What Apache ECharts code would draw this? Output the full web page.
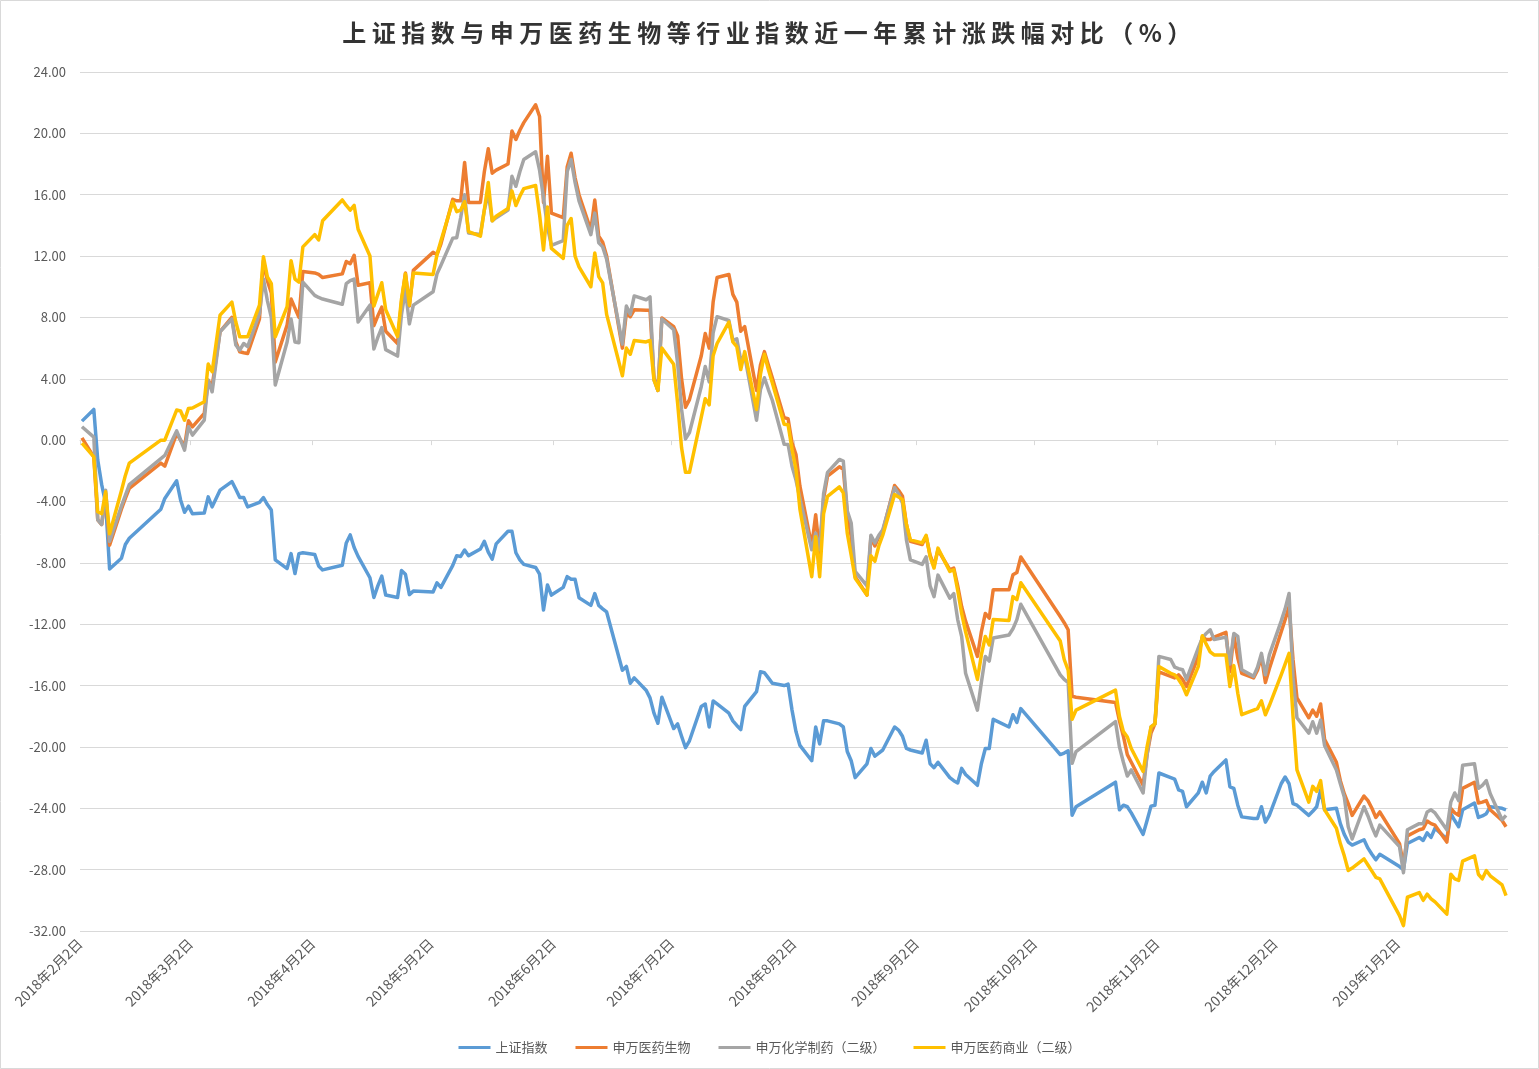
<!DOCTYPE html>
<html><head><meta charset="utf-8">
<script src="https://cdn.jsdelivr.net/npm/echarts@6/dist/echarts.min.js"></script>
<style>
html,body{margin:0;padding:0;background:#fff;}
#wrap{position:relative;width:1539px;height:1069px;}
#chart{position:absolute;left:0;top:0;width:1539px;height:1069px;}
#title{position:absolute;left:0;top:16px;width:1539px;text-align:center;font-family:'Noto Sans CJK SC';font-weight:bold;font-size:24px;line-height:32px;letter-spacing:5.5px;color:#333;z-index:2;}
</style></head>
<body><div id="wrap"><div id="chart"></div><div id="title">上证指数与申万医药生物等行业指数近一年累计涨跌幅对比（%）</div></div>
<script>
const seriesNames = ['上证指数','申万医药生物','申万化学制药（二级）','申万医药商业（二级）'];
const seriesColors = ['#5B9BD5','#ED7D31','#A5A5A5','#FFC000'];
const xTickDates = ['2018-02-02','2018-03-02','2018-04-02','2018-05-02','2018-06-02','2018-07-02','2018-08-02','2018-09-02','2018-10-02','2018-11-02','2018-12-02','2019-01-02'];
const yMin = -32, yMax = 24, yStep = 4;

const dates = [
'2018-02-02','2018-02-05','2018-02-06','2018-02-07','2018-02-08','2018-02-09','2018-02-12','2018-02-13','2018-02-14','2018-02-22','2018-02-23','2018-02-26','2018-02-27','2018-02-28',
'2018-03-01','2018-03-02','2018-03-05','2018-03-06','2018-03-07','2018-03-08','2018-03-09','2018-03-12','2018-03-13','2018-03-14','2018-03-15','2018-03-16','2018-03-19','2018-03-20','2018-03-21','2018-03-22','2018-03-23','2018-03-26','2018-03-27','2018-03-28','2018-03-29','2018-03-30',
'2018-04-02','2018-04-03','2018-04-04','2018-04-09','2018-04-10','2018-04-11','2018-04-12','2018-04-13','2018-04-16','2018-04-17','2018-04-18','2018-04-19','2018-04-20','2018-04-23','2018-04-24','2018-04-25','2018-04-26','2018-04-27',
'2018-05-02','2018-05-03','2018-05-04','2018-05-07','2018-05-08','2018-05-09','2018-05-10','2018-05-11','2018-05-14','2018-05-15','2018-05-16','2018-05-17','2018-05-18','2018-05-21','2018-05-22','2018-05-23','2018-05-24','2018-05-25','2018-05-28','2018-05-29','2018-05-30','2018-05-31',
'2018-06-01','2018-06-04','2018-06-05','2018-06-06','2018-06-07','2018-06-08','2018-06-11','2018-06-12','2018-06-13','2018-06-14','2018-06-15','2018-06-19','2018-06-20','2018-06-21','2018-06-22','2018-06-25','2018-06-26','2018-06-27','2018-06-28','2018-06-29',
'2018-07-02','2018-07-03','2018-07-04','2018-07-05','2018-07-06','2018-07-09','2018-07-10','2018-07-11','2018-07-12','2018-07-13','2018-07-16','2018-07-17','2018-07-18','2018-07-19','2018-07-20','2018-07-23','2018-07-24','2018-07-25','2018-07-26','2018-07-27','2018-07-30','2018-07-31',
'2018-08-01','2018-08-02','2018-08-03','2018-08-06','2018-08-07','2018-08-08','2018-08-09','2018-08-10','2018-08-13','2018-08-14','2018-08-15','2018-08-16','2018-08-17','2018-08-20','2018-08-21','2018-08-22','2018-08-23','2018-08-24','2018-08-27','2018-08-28','2018-08-29','2018-08-30','2018-08-31',
'2018-09-03','2018-09-04','2018-09-05','2018-09-06','2018-09-07','2018-09-10','2018-09-11','2018-09-12','2018-09-13','2018-09-14','2018-09-17','2018-09-18','2018-09-19','2018-09-20','2018-09-21','2018-09-25','2018-09-26','2018-09-27','2018-09-28',
'2018-10-08','2018-10-09','2018-10-10','2018-10-11','2018-10-12','2018-10-22','2018-10-23','2018-10-24','2018-10-25','2018-10-26','2018-10-29','2018-10-30','2018-10-31',
'2018-11-01','2018-11-02','2018-11-05','2018-11-06','2018-11-07','2018-11-08','2018-11-09','2018-11-12','2018-11-13','2018-11-14','2018-11-15','2018-11-16','2018-11-19','2018-11-20','2018-11-21','2018-11-22','2018-11-23','2018-11-26','2018-11-27','2018-11-28','2018-11-29','2018-11-30',
'2018-12-03','2018-12-04','2018-12-05','2018-12-06','2018-12-07','2018-12-10','2018-12-11','2018-12-12','2018-12-13','2018-12-14','2018-12-17','2018-12-18','2018-12-19','2018-12-20','2018-12-21','2018-12-24','2018-12-25','2018-12-26','2018-12-27','2018-12-28',
'2019-01-02','2019-01-03','2019-01-04','2019-01-07','2019-01-08','2019-01-09','2019-01-10','2019-01-11','2019-01-14','2019-01-15','2019-01-16','2019-01-17','2019-01-18','2019-01-21','2019-01-22','2019-01-23','2019-01-24','2019-01-25','2019-01-28','2019-01-29'
];

// 上证指数
const shIndex = [
1.24,2.0,-1.3,-2.9,-4.1,-8.4,-7.7,-6.8,-6.4,-4.5,-3.8,-2.65,-3.9,-4.7,
-4.3,-4.8,-4.75,-3.7,-4.35,-3.8,-3.26,-2.7,-3.2,-3.74,-3.74,-4.35,-4.06,-3.74,-4.2,-4.56,-7.8,-8.37,-7.4,-8.7,-7.4,-7.34,
-7.45,-8.2,-8.46,-8.16,-6.7,-6.18,-7.0,-7.58,-8.97,-10.26,-9.5,-8.86,-10.1,-10.26,-8.5,-8.74,-10.07,-9.84,
-9.9,-9.3,-9.6,-8.16,-7.53,-7.58,-7.16,-7.53,-7.1,-6.6,-7.3,-7.76,-6.76,-5.94,-5.94,-7.34,-7.8,-8.1,-8.3,-8.74,-11.07,-9.44,
-10.1,-9.6,-8.9,-9.07,-9.07,-10.27,-10.77,-10.0,-10.77,-11.0,-11.2,-15.0,-14.75,-15.85,-15.5,-16.3,-16.8,-17.8,-18.46,-16.76,
-18.8,-18.5,-19.3,-20.05,-19.6,-17.36,-17.2,-18.7,-17.0,-17.2,-17.8,-18.3,-18.6,-18.87,-17.36,-16.4,-15.1,-15.16,-15.5,-15.85,-16.0,-15.9,
-17.6,-19.0,-19.9,-20.9,-18.7,-19.8,-18.3,-18.3,-18.5,-18.7,-20.3,-20.9,-22.0,-21.1,-20.1,-20.6,-20.4,-20.2,-18.7,-18.9,-19.3,-20.1,-20.2,
-20.4,-19.56,-21.1,-21.35,-21.0,-22.0,-22.2,-22.35,-21.4,-21.8,-22.5,-21.1,-20.1,-20.1,-18.2,-18.7,-17.9,-18.4,-17.5,
-20.5,-20.4,-20.25,-24.45,-23.9,-22.3,-24.1,-23.8,-23.9,-24.3,-25.7,-24.8,-23.86,
-23.8,-21.7,-22.0,-22.1,-22.8,-22.9,-23.9,-23.0,-22.3,-23.0,-21.9,-21.6,-20.85,-22.6,-22.7,-23.8,-24.56,-24.67,-24.67,-23.9,-24.9,-24.46,
-22.4,-21.96,-22.4,-23.7,-23.8,-24.46,-24.2,-23.9,-22.8,-24.1,-24.0,-25.0,-25.7,-26.2,-26.4,-26.05,-26.6,-27.0,-27.36,-27.0,
-27.8,-28.0,-26.3,-25.9,-26.1,-25.6,-25.9,-25.3,-26.0,-24.35,-24.8,-25.2,-24.1,-23.66,-24.6,-24.5,-24.35,-23.9,-24.0,-24.1
];

// 申万医药生物
const swYiyao = [
0.15,-1.09,-5.2,-5.5,-3.5,-6.85,-4.5,-3.8,-3.15,-1.5,-1.7,0.43,0.0,-0.43,
1.26,0.87,1.74,3.9,3.5,5.3,7.07,8.0,6.4,5.76,5.7,5.65,7.9,11.7,10.4,9.6,5.1,7.5,9.2,8.6,8.0,11.0,
10.9,10.8,10.6,10.84,11.65,11.5,12.05,10.1,10.26,7.46,8.1,8.67,7.1,6.3,9.0,10.9,8.74,11.07,
12.24,12.1,12.8,15.7,15.6,15.6,18.1,15.5,15.5,17.5,19.0,17.4,17.6,18.0,20.16,19.6,20.2,20.7,21.86,21.1,15.5,18.5,
14.8,14.5,17.8,18.7,17.1,16.0,13.7,15.65,13.3,12.9,12.0,6.0,8.3,8.05,8.5,8.46,8.46,4.07,3.24,7.97,
7.4,6.8,4.0,2.14,2.64,5.5,6.95,6.0,9.0,10.6,10.8,9.5,9.0,7.1,7.4,3.24,4.9,5.77,4.9,4.07,1.46,1.4,
-0.17,-0.94,-3.0,-6.9,-4.86,-7.36,-3.8,-2.35,-1.74,-1.9,-4.75,-6.3,-8.9,-10.1,-6.3,-6.9,-6.3,-5.95,-2.96,-3.27,-3.66,-5.5,-6.6,
-6.8,-6.27,-7.5,-8.2,-7.15,-8.45,-8.34,-9.5,-10.85,-11.8,-14.1,-12.5,-11.3,-11.6,-9.76,-9.76,-8.78,-8.63,-7.62,
-11.5,-11.9,-12.36,-16.7,-16.76,-17.1,-18.3,-19.3,-20.5,-21.0,-22.5,-20.5,-19.1,
-18.5,-15.1,-15.4,-15.5,-15.3,-15.6,-16.06,-14.1,-12.84,-13.0,-13.0,-12.84,-12.53,-15.1,-12.7,-14.2,-15.2,-15.5,-15.0,-14.1,-15.8,-14.9,
-12.5,-11.7,-10.85,-14.3,-16.8,-18.1,-17.6,-18.0,-17.2,-19.5,-21.0,-22.2,-23.05,-23.7,-24.46,-23.2,-23.5,-24.0,-24.6,-24.24,
-26.3,-27.7,-25.8,-25.4,-25.33,-24.83,-25.0,-25.1,-26.2,-24.0,-24.3,-24.46,-22.7,-22.3,-23.66,-23.6,-23.5,-24.1,-24.8,-25.2
];

// 申万化学制药（二级）
const swHuaxue = [
0.87,0.2,-5.2,-5.5,-3.26,-6.6,-4.3,-3.6,-2.9,-1.2,-1.0,0.6,0.0,-0.65,
0.87,0.33,1.3,3.9,3.15,5.1,7.07,7.9,6.2,5.87,6.3,6.1,8.26,10.5,9.1,8.0,3.6,6.4,7.9,6.4,6.35,10.3,
9.44,9.3,9.2,8.86,10.2,10.4,10.5,7.7,8.8,5.94,6.7,7.34,5.9,5.48,8.2,9.8,7.58,8.8,
9.67,10.84,11.4,13.17,13.2,14.5,16.0,13.5,13.4,15.0,16.1,14.3,14.5,15.0,17.2,16.55,17.5,18.3,18.8,17.6,15.8,13.9,
12.7,13.0,17.5,18.3,16.8,15.6,13.4,14.8,12.86,12.6,11.8,6.26,8.74,8.2,9.4,9.15,9.34,3.93,3.24,7.9,
7.2,5.0,2.0,0.08,0.5,3.5,4.8,3.8,7.0,8.05,7.8,6.5,6.6,5.2,5.5,1.3,3.3,4.07,3.3,2.6,-0.27,-0.28,
-1.7,-2.6,-3.8,-7.15,-6.06,-7.15,-3.5,-2.1,-1.26,-1.37,-4.6,-5.4,-8.56,-9.5,-6.2,-6.7,-6.2,-5.84,-3.1,-3.5,-4.1,-6.5,-7.8,
-8.1,-7.6,-9.5,-10.2,-8.8,-10.3,-10.0,-11.7,-12.8,-15.2,-17.6,-15.8,-14.1,-14.4,-12.9,-12.7,-12.3,-11.7,-10.7,
-15.3,-15.6,-15.8,-21.07,-20.3,-18.35,-20.0,-21.0,-21.9,-21.5,-23.0,-20.5,-18.7,
-18.5,-14.1,-14.3,-14.8,-14.9,-14.97,-15.6,-13.55,-12.9,-12.6,-12.36,-13.0,-12.84,-14.6,-12.6,-12.8,-14.97,-15.4,-14.8,-13.9,-15.3,-14.0,
-11.8,-11.0,-10.0,-15.5,-18.1,-19.1,-18.36,-19.1,-18.25,-19.9,-21.5,-22.4,-23.26,-25.2,-26.0,-23.9,-24.5,-25.2,-25.8,-25.1,
-26.5,-28.2,-25.4,-25.0,-25.0,-24.24,-24.1,-24.3,-25.4,-23.6,-23.0,-23.5,-21.2,-21.1,-22.7,-22.5,-22.2,-23.05,-24.75,-24.46
];

// 申万医药商业（二级）
const swShangye = [
-0.2,-1.09,-4.67,-4.8,-3.37,-6.1,-3.3,-2.3,-1.5,0.0,0.0,1.96,1.9,1.3,
2.07,2.1,2.5,4.96,4.46,6.3,8.15,9.0,7.7,6.74,6.74,6.74,8.8,11.96,10.65,10.2,6.74,8.7,11.7,10.5,10.3,12.6,
13.4,13.05,14.3,15.66,15.3,15.0,15.3,13.75,12.0,8.74,9.5,10.26,8.5,6.76,9.2,10.84,8.8,10.9,
10.8,12.1,13.0,15.55,14.9,15.0,15.55,13.6,13.3,15.0,16.8,14.3,14.6,15.1,16.25,15.3,15.9,16.4,16.6,14.7,12.4,15.2,
12.5,11.85,14.0,14.45,12.0,11.3,10.0,12.2,10.66,10.25,8.2,4.2,6.0,5.6,6.5,6.4,6.5,3.93,3.24,6.0,
4.95,2.4,-0.5,-2.1,-2.1,1.5,2.7,2.3,5.5,6.3,7.7,6.4,6.1,4.6,5.77,2.0,4.3,5.6,4.6,3.74,1.04,1.0,
-0.6,-1.9,-4.5,-8.9,-6.3,-8.9,-4.8,-3.66,-3.05,-3.44,-6.06,-7.5,-9.0,-10.1,-7.54,-7.9,-6.9,-6.2,-3.55,-3.7,-3.88,-5.5,-6.5,
-6.7,-6.2,-7.6,-8.34,-7.04,-8.56,-8.45,-9.8,-11.3,-12.5,-15.6,-14.0,-12.8,-13.35,-11.7,-11.76,-10.2,-10.4,-9.3,
-13.1,-14.3,-15.0,-18.2,-17.6,-16.3,-18.0,-19.0,-19.35,-20.1,-21.6,-20.0,-18.7,
-18.5,-14.75,-15.2,-15.3,-15.6,-16.0,-16.6,-14.75,-12.75,-13.3,-13.8,-14.0,-14.0,-16.06,-14.7,-16.5,-17.9,-17.6,-17.5,-17.0,-17.9,-17.3,
-15.3,-14.6,-13.9,-18.0,-21.5,-23.6,-22.57,-22.9,-22.2,-24.1,-25.3,-26.3,-27.1,-28.06,-27.9,-27.3,-27.7,-28.1,-28.5,-28.6,
-31.0,-31.65,-29.8,-29.5,-30.0,-29.6,-29.9,-30.1,-30.9,-28.3,-28.6,-28.7,-27.45,-27.1,-28.3,-28.6,-28.06,-28.4,-29.0,-29.7
];

function parts(s){ return s.split('-').map(Number); }
function dayStart(s){ const p = parts(s); return new Date(p[0], p[1]-1, p[2]).getTime(); }
function dayMid(s){ const p = parts(s); return new Date(p[0], p[1]-1, p[2], 12).getTime(); }
function fmtDate(v){ const d = new Date(v); return d.getFullYear() + '年' + (d.getMonth()+1) + '月' + d.getDate() + '日'; }

const allValues = [shIndex, swYiyao, swHuaxue, swShangye];
const xMin = dayStart(dates[0]);
const xMax = dayStart(dates[dates.length-1]) + 86400000;
const tickVals = xTickDates.map(dayStart);

const chart = echarts.init(document.getElementById('chart'), null, {renderer:'canvas'});
chart.setOption({
  animation: false,
  backgroundColor: '#ffffff',
  textStyle: { fontFamily: "'Noto Sans CJK SC', 'Noto Sans', sans-serif" },
  grid: { left: 80, right: 31, top: 72, bottom: 138, containLabel: false, outerBoundsMode: 'none' },
  legend: {
    top: 1036, left: 'center', icon: 'rect', itemWidth: 32, itemHeight: 3, itemGap: 28,
    selectedMode: false,
    textStyle: { color: '#595959', fontSize: 13 },
    data: seriesNames
  },
  xAxis: [
    {
      type: 'value', min: xMin, max: xMax, position: 'bottom', scale: true,
      axisLine: { show: false, onZero: false },
      axisTick: { show: false },
      splitLine: { show: false },
      axisLabel: {
        customValues: tickVals, rotate: 45, margin: 10, hideOverlap: false,
        showMinLabel: true, showMaxLabel: true,
        color: '#595959', fontSize: 14, formatter: fmtDate
      }
    },
    {
      type: 'value', min: xMin, max: xMax, position: 'bottom', scale: true,
      axisLine: { show: true, onZero: true, onZeroAxisIndex: 0, lineStyle: { color: '#d9d9d9', width: 1 } },
      axisTick: { show: true, customValues: tickVals, length: 5, lineStyle: { color: '#d9d9d9' } },
      axisLabel: { show: false },
      splitLine: { show: false }
    }
  ],
  yAxis: {
    type: 'value', min: yMin, max: yMax, interval: yStep,
    axisLine: { show: false }, axisTick: { show: false },
    splitLine: { lineStyle: { color: '#d9d9d9', width: 1 } },
    axisLabel: { color: '#595959', fontSize: 13, margin: 14, formatter: v => v.toFixed(2) }
  },
  graphic: [{
    type: 'rect', silent: true, z: 100,
    shape: { x: 0.5, y: 0.5, width: 1538, height: 1068 },
    style: { fill: 'none', stroke: '#d9d9d9', lineWidth: 1 }
  }],
  series: seriesNames.map((name, i) => ({
    name: name, type: 'line', xAxisIndex: 0, yAxisIndex: 0,
    showSymbol: false, symbol: 'none',
    lineStyle: { width: 3.5, color: seriesColors[i], join: 'round' },
    itemStyle: { color: seriesColors[i] },
    emphasis: { disabled: true },
    data: dates.map((d, j) => [dayMid(d), allValues[i][j]])
  }))
});
</script>
</body></html>
